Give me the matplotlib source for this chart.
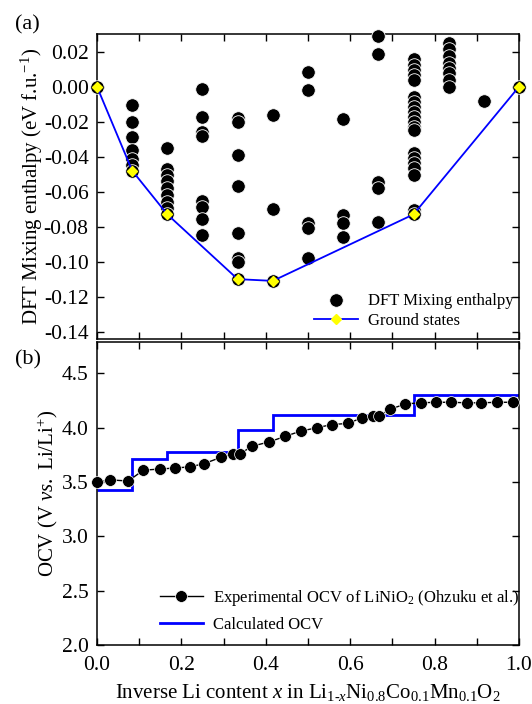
import numpy as np
import matplotlib
matplotlib.use('Agg')
import matplotlib.pyplot as plt

plt.rcParams['font.family'] = ['Liberation Serif', 'DejaVu Serif']
plt.rcParams['mathtext.fontset'] = 'custom'
plt.rcParams['mathtext.rm'] = 'Liberation Serif'
plt.rcParams['mathtext.it'] = 'Liberation Serif:italic'

# ---- panel (a): DFT mixing enthalpies, grouped by Li content x = n/12 ----
dft_columns = {
    0: [0.0],
    1: [-0.0105, -0.020, -0.029, -0.036, -0.0415, -0.045, -0.048],
    2: [-0.035, -0.047, -0.0505, -0.054, -0.058, -0.062, -0.0657, -0.0695, -0.073],
    3: [-0.0013, -0.0175, -0.0257, -0.0282, -0.0653, -0.0686, -0.0756, -0.0848],
    4: [-0.0177, -0.020, -0.039, -0.0566, -0.0834, -0.0977, -0.1004, -0.110],
    5: [-0.0164, -0.0697, -0.111],
    6: [0.0086, -0.0019, -0.078, -0.0806, -0.0977],
    7: [-0.0183, -0.0733, -0.078, -0.0857],
    8: [0.029, 0.0185, -0.0543, -0.058, -0.0775],
    9: [0.0158, 0.0124, 0.0095, 0.0067, 0.0038, -0.0057, -0.0086, -0.0114,
        -0.0143, -0.0171, -0.020, -0.0229, -0.0248, -0.0381, -0.041, -0.0438,
        -0.0467, -0.0505, -0.0705, -0.073],
    10: [0.0248, 0.0213, 0.0175, 0.0137, 0.0105, 0.0076, 0.0038, 0.0],
    11: [-0.008],
    12: [0.0],
}

gs_x = [0, 1/12, 2/12, 4/12, 5/12, 9/12, 1]
gs_e = [0.0, -0.048, -0.073, -0.110, -0.111, -0.073, 0.0]

# ---- panel (b): OCV ----
exp_x = [0.0, 0.032, 0.074, 0.110, 0.149, 0.185, 0.220, 0.254, 0.295, 0.322,
         0.339, 0.367, 0.408, 0.445, 0.483, 0.521, 0.556, 0.594, 0.627, 0.653,
         0.669, 0.694, 0.731, 0.767, 0.803, 0.839, 0.876, 0.910, 0.949, 0.985]
exp_v = [3.50, 3.52, 3.51, 3.61, 3.62, 3.63, 3.64, 3.67, 3.73, 3.76,
         3.76, 3.83, 3.87, 3.92, 3.97, 4.00, 4.03, 4.04, 4.09, 4.11,
         4.11, 4.17, 4.22, 4.23, 4.235, 4.235, 4.23, 4.23, 4.235, 4.235]

step_edges = [0, 1/12, 2/12, 4/12, 5/12, 9/12, 1]
step_v = [3.425, 3.71, 3.78, 3.98, 4.115, 4.30]

fig = plt.figure(figsize=(5.32, 7.04), dpi=100)
ax1 = fig.add_axes([0.1823, 0.5185, 0.7933, 0.4332])
ax2 = fig.add_axes([0.1823, 0.0838, 0.7933, 0.4304])

# panel a
first = True
for n, vals in dft_columns.items():
    ax1.scatter([n / 12] * len(vals), vals, s=95, c='black', edgecolors='white',
                linewidths=0.6, zorder=3, clip_on=False,
                label='DFT Mixing enthalpy' if first else None)
    first = False
ax1.plot(gs_x, gs_e, color='#0000ff', lw=1.3, marker='D', ms=5,
         mfc='#ffff00', mec='#ffff00', zorder=4, clip_on=False, label='Ground states')

ax1.set_xlim(0, 1)
ax1.set_ylim(-0.1442, 0.0301)
yt = np.arange(-0.14, 0.021, 0.02)
ax1.set_yticks(yt)
ax1.set_yticklabels(['%.2f' % v if abs(v) > 1e-9 else '0.00' for v in yt])
ax1.set_xticks(np.arange(0, 1.01, 0.1))
ax1.set_xticklabels([])
ax1.set_ylabel('DFT Mixing enthalpy (eV f.u.$^{-1}$)', fontsize=15, labelpad=-1)
ax1.legend(loc='lower right', bbox_to_anchor=(1.01, 0.0), frameon=False,
           fontsize=12, handlelength=2.6, handletextpad=0.6,
           borderaxespad=0.2, labelspacing=0.25)

# panel b
ax2.plot(exp_x, exp_v, color='black', lw=1, marker='o', ms=8.5,
         mfc='black', mec='white', mew=0.5, zorder=3, clip_on=False,
         label='Experimental OCV of LiNiO$_2$ (Ohzuku et al.)')
ax2.stairs(step_v, step_edges, color='#0000ff', lw=2, baseline=None,
           zorder=2, label='Calculated OCV')

ax2.set_xlim(0, 1)
ax2.set_ylim(2.0, 4.79)
ax2.set_yticks([2.0, 2.5, 3.0, 3.5, 4.0, 4.5])
ax2.set_yticklabels(['2.0', '2.5', '3.0', '3.5', '4.0', '4.5'])
xt = np.arange(0, 1.01, 0.1)
ax2.set_xticks(xt)
ax2.set_xticklabels(['%.1f' % v if i % 2 == 0 else '' for i, v in enumerate(xt)])
ax2.set_ylabel('OCV (V $vs.$ Li/Li$^{+}$)', fontsize=15, labelpad=1)
ax2.set_xlabel('Inverse Li content $x$ in Li$_{1\\text{-}x}$Ni$_{0.8}$Co$_{0.1}$Mn$_{0.1}$O$_2$',
               fontsize=15, labelpad=5)
ax2.legend(loc='lower right', bbox_to_anchor=(1.017, 0.017), frameon=False,
           fontsize=12, handlelength=2.6, handletextpad=0.6,
           borderaxespad=0.0, labelspacing=0.55)

for ax in (ax1, ax2):
    ax.tick_params(direction='in', top=True, right=True, length=5, width=1,
                   labelsize=15.5, pad=6)
    for sp in ax.spines.values():
        sp.set_linewidth(1.1)
ax2.tick_params(axis='x', pad=8)

fig.text(0.028, 0.964, '(a)', fontsize=16, va='center')
fig.text(0.028, 0.489, '(b)', fontsize=16, va='center')

fig.savefig('out.png', dpi=100)
